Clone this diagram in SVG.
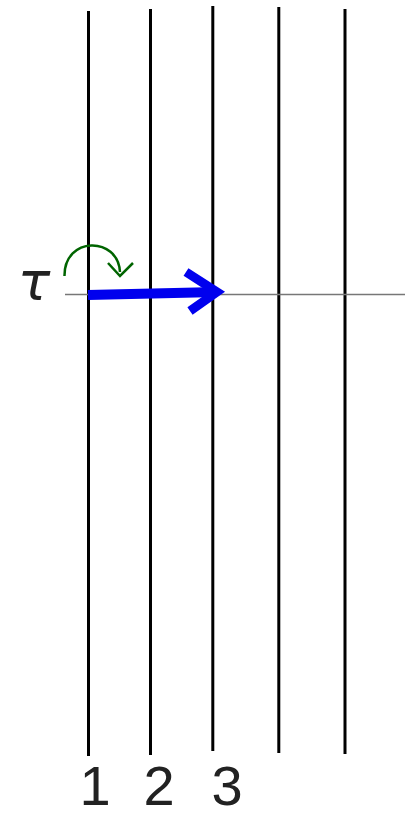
<svg xmlns="http://www.w3.org/2000/svg" width="405" height="816" viewBox="0 0 405 816">
<style>
.strand{stroke:#000;stroke-width:3;fill:none}
.lbl{font-family:"Liberation Sans","DejaVu Sans",sans-serif;font-size:56px;fill:#222;text-anchor:middle}
</style>
<rect width="405" height="816" fill="#fff"/>
<g id="strand1"><line class="strand" x1="88.5" y1="11" x2="88.5" y2="756"/></g>
<g id="strand2"><line class="strand" x1="150.5" y1="9" x2="150.5" y2="755"/></g>
<g id="strand3"><line class="strand" x1="212.8" y1="6" x2="212.8" y2="751"/></g>
<g id="strand4"><line class="strand" x1="278.8" y1="7" x2="278.8" y2="753"/></g>
<g id="strand5"><line class="strand" x1="345" y1="9" x2="345" y2="754"/></g>
<g id="connectors">
<line x1="65" y1="294.5" x2="405" y2="294.5" stroke="#777" stroke-width="1.4"/>
<path d="M88,295 L217,292" stroke="#0000ee" stroke-width="10" fill="none"/>
<path d="M186,272 L217,292 L190,311" stroke="#0000ee" stroke-width="9" fill="none" stroke-linejoin="miter"/>
<path d="M64.5,276 C64,236 118,236 120,272" stroke="#006400" stroke-width="2.5" fill="none"/>
<path d="M108,263 L120,276 L133,263" stroke="#006400" stroke-width="2.5" fill="none"/>
</g>
<g id="tau"><text x="34" y="300" font-family="DejaVu Sans, sans-serif" font-style="italic" font-size="54" fill="#222" text-anchor="middle">τ</text></g>
<g id="labels">
<text class="lbl" x="95" y="805">1</text>
<text class="lbl" x="159" y="805">2</text>
<text class="lbl" x="227" y="805">3</text>
</g>
</svg>
